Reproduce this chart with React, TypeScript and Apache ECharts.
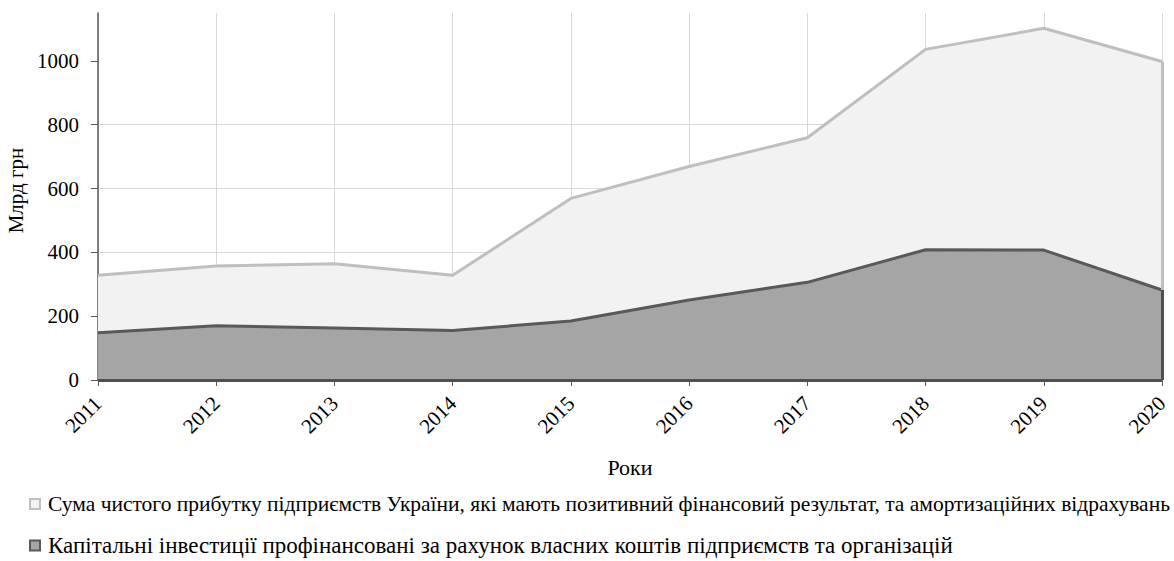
import React, { useEffect, useRef } from "react";
import * as echarts from "echarts";

const years = ["2011", "2012", "2013", "2014", "2015", "2016", "2017", "2018", "2019", "2020"];
const profitAmort = [328, 357, 364, 328, 569, 669, 759, 1036, 1102, 998];
const capInvest = [148, 170, 163, 155, 185, 251, 306, 408, 407, 282];
const yTicks = [0, 200, 400, 600, 800, 1000];

const name1 =
  "Сума чистого прибутку підприємств України, які мають позитивний фінансовий результат, та амортизаційних відрахувань";
const name2 =
  "Капітальні інвестиції профінансовані за рахунок власних коштів підприємств та організацій";

const FONT = "Liberation Serif";

export default function App() {
  const ref = useRef<HTMLDivElement>(null);
  useEffect(() => {
    if (!ref.current) return;
    const chart = echarts.init(ref.current, null, { renderer: "svg" });
    const first = years[0];
    const last = years[years.length - 1];
    chart.setOption({
      animation: false,
      textStyle: { fontFamily: FONT, color: "#000" },
      grid: { left: 98, right: 12, top: 13, bottom: 181, containLabel: false, outerBoundsMode: "none" },
      xAxis: {
        type: "category",
        data: years,
        boundaryGap: false,
        name: "Роки",
        nameLocation: "middle",
        nameGap: 76,
        nameTextStyle: { fontFamily: FONT, fontSize: 22, color: "#000" },
        axisLine: { show: false },
        axisTick: { show: true, alignWithLabel: true, length: 6, lineStyle: { color: "#595959" } },
        axisLabel: { rotate: 45, fontFamily: FONT, fontSize: 21, color: "#000", margin: 20, interval: 0 },
        splitLine: { show: true, lineStyle: { color: "#d9d9d9", width: 1 } },
      },
      yAxis: {
        type: "value",
        min: 0,
        max: 1150,
        name: "Млрд грн",
        nameLocation: "middle",
        nameGap: 70,
        nameTextStyle: { fontFamily: FONT, fontSize: 21, color: "#000", padding: [0, 0, 0, 12] },
        axisLine: { show: true, lineStyle: { color: "#595959", width: 1.5 } },
        axisTick: { show: true, length: 7, lineStyle: { color: "#595959" }, customValues: yTicks },
        axisLabel: {
          fontFamily: FONT,
          fontSize: 21,
          color: "#000",
          margin: 19,
          customValues: yTicks,
          formatter: (v: number) => String(v),
        },
        splitLine: { show: true, showMaxLine: false, lineStyle: { color: "#d9d9d9", width: 1 } },
      },
      legend: [
        {
          left: 29,
          top: 493,
          padding: 0,
          icon: "rect",
          itemWidth: 10,
          itemHeight: 10,
          textStyle: { fontFamily: FONT, fontSize: 21.5, color: "#000", padding: [0, 0, 0, 3] },
          data: [{ name: name1, itemStyle: { color: "#f2f2f2", borderColor: "#bfbfbf", borderWidth: 2 } }],
        },
        {
          left: 29,
          top: 534,
          padding: 0,
          icon: "rect",
          itemWidth: 10,
          itemHeight: 10,
          textStyle: { fontFamily: FONT, fontSize: 23, color: "#000", padding: [0, 0, 0, 3] },
          data: [{ name: name2, itemStyle: { color: "#a5a5a5", borderColor: "#595959", borderWidth: 2 } }],
        },
      ],
      series: [
        {
          name: name1,
          type: "line",
          data: profitAmort,
          showSymbol: false,
          symbol: "none",
          lineStyle: { color: "#bfbfbf", width: 3 },
          itemStyle: { color: "#bfbfbf" },
          areaStyle: { color: "#f2f2f2", opacity: 1 },
          z: 2,
          markLine: {
            silent: true,
            symbol: "none",
            label: { show: false },
            lineStyle: { color: "#bfbfbf", width: 3, type: "solid" },
            data: [[{ coord: [last, 0] }, { coord: [last, profitAmort[profitAmort.length - 1]] }]],
          },
        },
        {
          name: name2,
          type: "line",
          data: capInvest,
          showSymbol: false,
          symbol: "none",
          lineStyle: { color: "#595959", width: 3 },
          itemStyle: { color: "#595959" },
          areaStyle: { color: "#a5a5a5", opacity: 1 },
          z: 3,
          markLine: {
            silent: true,
            symbol: "none",
            label: { show: false },
            lineStyle: { color: "#505050", width: 3, type: "solid" },
            data: [
              [{ coord: [last, 0] }, { coord: [last, capInvest[capInvest.length - 1]] }],
              [{ coord: [first, 0] }, { coord: [last, 0] }],
            ],
          },
        },
      ],
    });
    return () => chart.dispose();
  }, []);
  return <div ref={ref} style={{ width: 1174, height: 561, position: "absolute", left: 0, top: 0 }} />;
}
